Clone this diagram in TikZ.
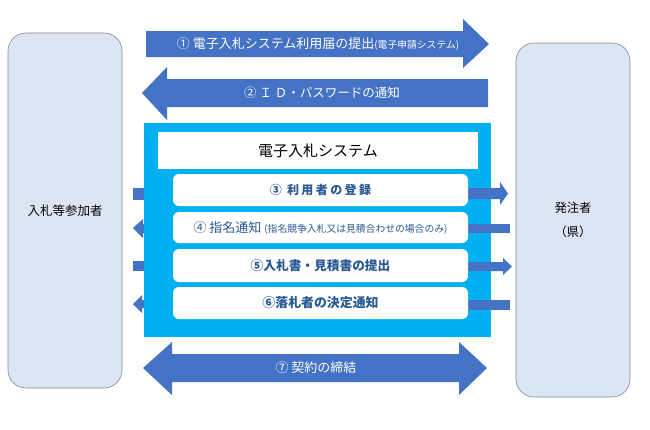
\documentclass[tikz,border=0pt]{standalone}
\usepackage{fontspec}
\setmainfont{Noto Sans CJK JP}
\newfontfamily\jpsp[LetterSpace=20]{Noto Sans CJK JP}
\newcommand\jpsz[1]{\fontsize{#1}{#1}\selectfont}
\definecolor{arrowblue}{HTML}{4472C4}
\definecolor{sysblue}{HTML}{00B0F0}
\definecolor{partyfill}{HTML}{DCE6F3}
\definecolor{edgegray}{HTML}{7F8898}
\definecolor{rowtext}{HTML}{2A5A92}
\begin{document}
\begin{tikzpicture}[x=1pt,y=-1pt,
  party/.style={draw=edgegray, line width=0.6pt, fill=partyfill, rounded corners=18pt, inner sep=0pt, align=center},
  rowbox/.style={fill=white, rounded corners=6pt, minimum width=295pt, minimum height=32pt, inner sep=0pt},
  flow/.style={fill=arrowblue},
  whitelbl/.style={text=white, inner sep=0pt},
  rowlbl/.style={text=rowtext, inner sep=0pt}]
\useasboundingbox (0,0) rectangle (650,429);
\fill[white] (0,0) rectangle (650,429);

% participants
\node[party, minimum width=114pt, minimum height=355pt, font=\jpsz{12.5}] (bidder) at (65,210.5) {入札等参加者};
\node[party, minimum width=114pt, minimum height=354pt, font=\fontsize{12.3}{24}\selectfont] (owner) at (573,220) {発注者\\（県）};

% big arrows
\fill[flow] (146,31) -- (463,31) -- (463,19) -- (489,44) -- (463,68) -- (463,57) -- (146,57) -- cycle;
\node[whitelbl] (a1) at (318,44) {\jpsz{13}① 電子入札システム利用届の提出\jpsz{9.8}(電子申請システム)};
\fill[flow] (488,79) -- (167,79) -- (167,67) -- (142,93) -- (167,120) -- (167,107) -- (488,107) -- cycle;
\node[whitelbl] (a2) at (322,93) {\jpsz{12.5}② Ｉ Ｄ・パスワードの通知};
\fill[flow] (143,368) -- (172,342) -- (172,354) -- (459,354) -- (459,342) -- (487,368) -- (459,395) -- (459,382) -- (172,382) -- (172,395) -- cycle;
\node[whitelbl] (a7) at (316,368) {\jpsz{13}⑦ 契約の締結};

% left stubs (behind the system box)
\fill[flow] (133,188) rectangle (146,200);
\fill[flow] (133,228) -- (143,219) -- (143,224) -- (146,224) -- (146,233) -- (143,233) -- (143,238) -- cycle;
\fill[flow] (133,261) rectangle (146,271);
\fill[flow] (133,304) -- (142,295) -- (142,300) -- (146,300) -- (146,308) -- (142,308) -- (142,313) -- cycle;

% system box
\node[fill=sysblue, minimum width=347pt, minimum height=214pt, inner sep=0pt, anchor=north west] (system) at (144,123) {};

% right side connectors
\fill[flow] (460,188) -- (500,188) -- (500,182) -- (508,193.5) -- (500,205) -- (500,199) -- (460,199) -- cycle;
\fill[flow] (460,224) rectangle (510,233);
\fill[flow] (460,262) -- (503,262) -- (503,258) -- (512,266.5) -- (503,275) -- (503,271) -- (460,271) -- cycle;
\fill[flow] (460,300) rectangle (510,310);

% title and rows
\node[fill=white, minimum width=320pt, minimum height=37pt, inner sep=0pt] (title) at (318,150.5) {\jpsz{15}電子入札システム};
\node[rowbox] (r3) at (320.5,190) {};
\node[rowbox, minimum height=31pt] (r4) at (320.5,227.5) {};
\node[rowbox, minimum height=33pt] (r5) at (320.5,265.5) {};
\node[rowbox] (r6) at (320.5,303) {};
\node[rowlbl] (t3) at (r3) {\jpsp\bfseries\jpsz{12}③ 利用者の登録};
\node[rowlbl] (t4) at (r4) {\jpsz{13}④ 指名通知 \jpsz{9.8}(指名競争入札又は見積合わせの場合のみ)};
\node[rowlbl] (t5) at (r5) {\bfseries\jpsz{12.7}⑤入札書・見積書の提出};
\node[rowlbl] (t6) at (r6) {\bfseries\jpsz{12.9}⑥落札者の決定通知};
\end{tikzpicture}
\end{document}
